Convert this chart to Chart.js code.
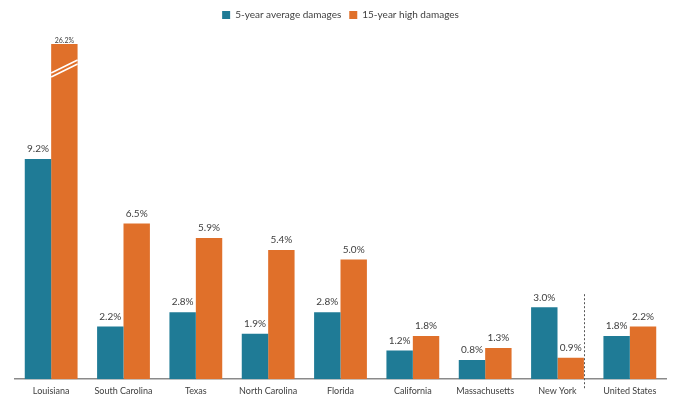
<!DOCTYPE html>
<html>
<head>
<meta charset="utf-8">
<script src="https://cdn.jsdelivr.net/npm/chart.js@4/dist/chart.umd.min.js"></script>
<style>
  html, body { margin: 0; padding: 0; background: #fff; }
  #wrap { width: 676px; height: 398px; }
</style>
</head>
<body>
<div id="wrap"><canvas id="chart" width="676" height="398"></canvas></div>
<script>
const states = ['Louisiana', 'South Carolina', 'Texas', 'North Carolina', 'Florida',
  'California', 'Massachusetts', 'New York', 'United States'];
const avgDamages = [9.2, 2.2, 2.8, 1.9, 2.8, 1.2, 0.8, 3.0, 1.8];
const highDamages = [26.2, 6.5, 5.9, 5.4, 5.0, 1.8, 1.3, 0.9, 2.2];

const TEAL = '#1f7b96';
const ORANGE = '#e0702a';
const TEXT = '#404040';

// percent labels over each bar; the clipped Louisiana bar gets a small one at the top edge
const valueLabels = {
  id: 'valueLabels',
  afterDatasetsDraw(chart) {
    const { ctx, chartArea } = chart;
    ctx.save();
    ctx.fillStyle = TEXT;
    ctx.textAlign = 'center';
    ctx.textBaseline = 'bottom';
    chart.data.datasets.forEach((ds, di) => {
      chart.getDatasetMeta(di).data.forEach((bar, i) => {
        const txt = ds.data[i].toFixed(1) + '%';
        if (bar.y < chartArea.top) {
          ctx.font = '7px Lato, sans-serif';
          ctx.fillText(txt, bar.x, chartArea.top);
        } else {
          ctx.font = '10px Lato, sans-serif';
          ctx.fillText(txt, bar.x, bar.y - 5);
        }
      });
    });
    ctx.restore();
  }
};

// break marks on bars that run past the top of the scale
const axisBreak = {
  id: 'axisBreak',
  afterDatasetsDraw(chart) {
    const { ctx, chartArea } = chart;
    ctx.save();
    ctx.strokeStyle = '#fff';
    ctx.lineWidth = 1.5;
    chart.getDatasetMeta(1).data.forEach((bar) => {
      if (bar.y >= chartArea.top) return;
      const l = bar.x - bar.width / 2;
      const r = bar.x + bar.width / 2;
      [0, 4].forEach((off) => {
        ctx.beginPath();
        ctx.moveTo(l, chartArea.top + 29 + off);
        ctx.lineTo(r, chartArea.top + 16 + off);
        ctx.stroke();
      });
    });
    ctx.restore();
  }
};

// dashed separator between the states and the national figure
const separator = {
  id: 'separator',
  afterDraw(chart) {
    const { ctx, chartArea } = chart;
    const last = chart.getDatasetMeta(1).data[states.length - 2];
    const x = Math.round(last.x + last.width / 2) + 0.5;
    ctx.save();
    ctx.strokeStyle = '#555';
    ctx.lineWidth = 1;
    ctx.setLineDash([2, 2]);
    ctx.beginPath();
    ctx.moveTo(x, chart.scales.y.getPixelForValue(3.55));
    ctx.lineTo(x, chartArea.bottom + 9);
    ctx.stroke();
    ctx.restore();
  }
};

// extra room between the legend and the bars
const legendGap = {
  id: 'legendGap',
  beforeInit(chart) {
    const fit = chart.legend.fit;
    chart.legend.fit = function () {
      fit.bind(chart.legend)();
      this.height += 14;
    };
  }
};

new Chart(document.getElementById('chart'), {
  type: 'bar',
  data: {
    labels: states,
    datasets: [
      { label: '5-year average damages', data: avgDamages, backgroundColor: TEAL },
      { label: '15-year high damages', data: highDamages, backgroundColor: ORANGE }
    ]
  },
  options: {
    responsive: false,
    animation: false,
    layout: { padding: { left: 15, right: 10, top: 2, bottom: -4 } },
    datasets: { bar: { barPercentage: 1, categoryPercentage: 0.73 } },
    plugins: {
      legend: {
        position: 'top',
        labels: {
          boxWidth: 8,
          boxHeight: 8,
          padding: 8,
          color: TEXT,
          font: { family: 'Lato, sans-serif', size: 10 }
        }
      },
      tooltip: { enabled: false }
    },
    scales: {
      x: {
        grid: { display: false, drawTicks: false },
        border: { color: '#8a8a8a', width: 1.5 },
        ticks: {
          color: TEXT,
          padding: 6,
          maxRotation: 0,
          autoSkip: false,
          font: { family: 'Lato, sans-serif', size: 9 }
        }
      },
      y: {
        display: false,
        min: 0,
        max: 14
      }
    }
  },
  plugins: [legendGap, valueLabels, axisBreak, separator]
});
</script>
</body>
</html>
